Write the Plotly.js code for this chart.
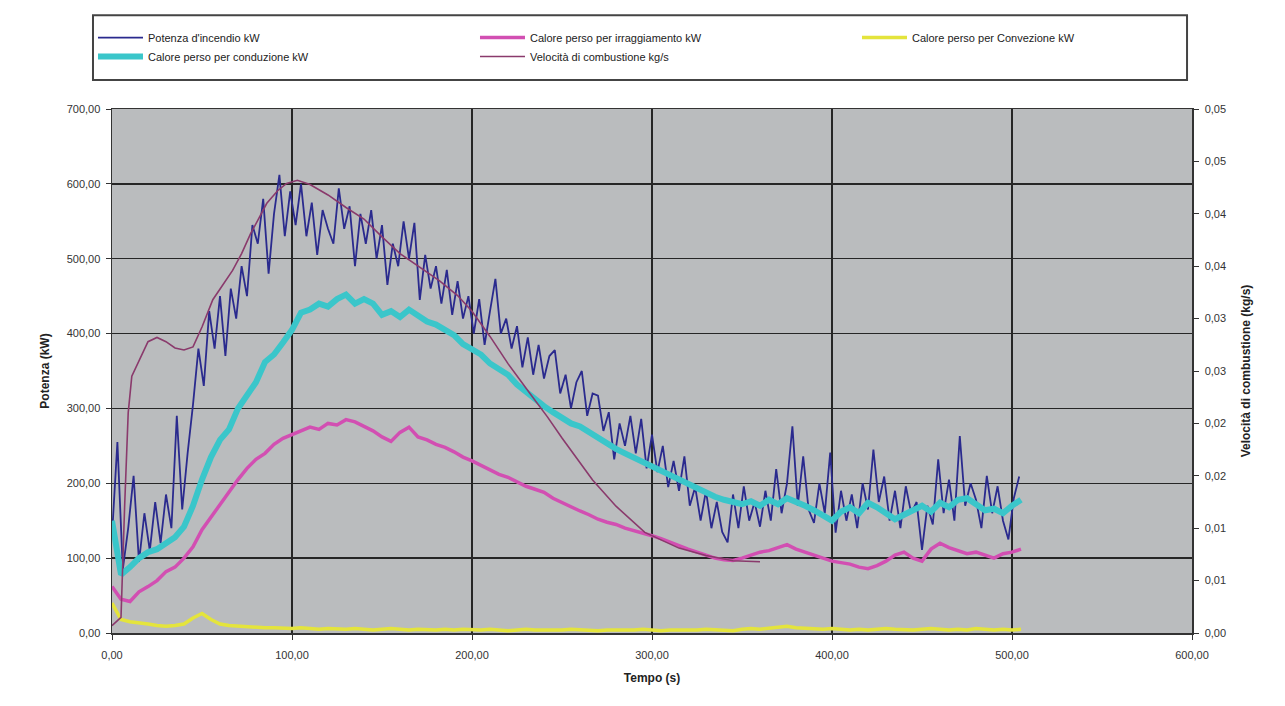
<!DOCTYPE html>
<html>
<head>
<meta charset="utf-8">
<script src="https://cdn.plot.ly/plotly-3.0.1.min.js"></script>
<style>html,body{margin:0;padding:0;background:#fff;}#chart{width:1285px;height:706px;}</style>
</head>
<body>
<div id="chart"></div>
<script>
// ---- DATA ----
const seriesNames = [
  "Potenza d'incendio kW",
  "Calore perso per irraggiamento kW",
  "Calore perso per Convezione kW",
  "Calore perso per conduzione kW",
  "Velocità di combustione kg/s"
];

// Potenza d'incendio (kW), sampled every 3 s from t = 0
const powerStep = 3;
const powerKW = [
  130,255,85,140,210,95,160,110,175,120,
  185,140,290,165,240,305,380,330,430,380,
  450,370,460,420,490,450,545,520,580,480,
  560,612,530,590,545,600,530,575,505,565,
  540,520,594,540,570,490,560,520,565,500,
  545,465,520,490,550,500,548,445,505,460,
  490,440,485,425,470,420,450,400,446,385,
  430,473,400,420,380,410,355,395,345,385,
  340,370,378,320,345,300,335,350,290,320,
  317,270,295,232,280,250,290,240,286,220,
  265,215,250,195,230,190,236,170,195,150,
  190,140,175,135,121,185,140,196,150,175,
  142,190,150,219,160,200,276,170,236,165,
  147,200,160,241,134,190,150,185,140,200,
  165,245,175,209,150,190,140,196,160,175,
  111,170,145,232,160,205,150,263,170,200,
  178,140,210,160,196,150,125,180,209
];

// Calore perso per irraggiamento (kW), every 5 s from t = 0
const lossStep = 5;
const radiationKW = [
  62,45,42,55,62,70,82,88,100,115,
  138,155,172,188,205,220,232,240,252,260,
  265,270,275,272,280,278,285,282,276,270,
  262,256,268,275,262,258,252,248,242,235,
  230,224,218,212,208,202,196,192,188,180,
  174,168,163,158,152,148,145,140,137,134,
  130,126,121,116,112,108,104,100,98,97,
  100,104,108,110,114,118,112,108,104,100,
  96,94,92,88,86,90,96,104,108,100,
  96,112,120,114,110,106,108,104,100,106,
  108,112
];

// Calore perso per Convezione (kW), every 5 s from t = 0
const convectionKW = [
  40,18,15,14,12,10,9,10,12,20,
  26,18,12,10,9,8,8,7,7,6,
  6,7,6,5,6,5,5,6,5,4,
  5,6,5,4,5,4,4,5,4,5,
  4,4,5,4,3,4,5,4,4,3,
  4,5,4,4,3,4,4,3,4,5,
  4,3,4,4,3,4,5,4,4,3,
  5,6,5,6,7,9,7,6,5,5,
  6,5,4,5,4,5,6,5,4,4,
  5,6,5,4,5,4,6,5,4,5,
  4,5
];

// Calore perso per conduzione (kW), every 5 s from t = 0
const conductionKW = [
  150,78,88,100,108,112,120,128,142,170,
  205,235,258,272,300,318,335,362,372,388,
  405,428,432,440,436,446,452,440,446,440,
  425,430,422,432,425,416,412,404,398,386,
  380,372,360,352,345,332,322,312,303,295,
  288,280,276,268,260,252,246,240,234,228,
  222,216,210,204,198,192,186,182,178,176,
  172,176,170,178,172,180,176,170,164,158,
  150,162,168,160,174,168,160,152,158,165,
  170,162,174,168,178,180,172,164,166,160,
  170,178
];

// Velocità di combustione (kg/s), right axis
const burnTime = [0,5,7,9,11,15,20,25,30,35,40,45,50,56,62,67,72,77,82,86,92,97,103,110,120,130,140,150,160,170,182,192,200,210,220,232,242,250,260,267,280,296,315,330,345,360];
const burnRate = [0.0007,0.0015,0.012,0.021,0.0245,0.026,0.0278,0.0282,0.0278,0.0272,0.027,0.0273,0.0292,0.0318,0.0333,0.0346,0.0362,0.0381,0.0397,0.041,0.0422,0.0429,0.0432,0.0428,0.0418,0.0406,0.0395,0.0378,0.0362,0.035,0.0336,0.0322,0.0307,0.0283,0.0257,0.0229,0.0206,0.0186,0.0163,0.0146,0.0121,0.0096,0.0081,0.0074,0.0069,0.0068];

// Axis ticks
const xTicks = [0,100,200,300,400,500,600];
const yTicks = [0,100,200,300,400,500,600,700];
const y2TickVals = [0,0.005,0.01,0.015,0.02,0.025,0.03,0.035,0.04,0.045,0.05];
const y2TickText = ["0,00","0,01","0,01","0,02","0,02","0,03","0,03","0,04","0,04","0,05","0,05"];

// ---- BUILD ----
const powerTime = powerKW.map((_, i) => i * powerStep);
const lossTime = radiationKW.map((_, i) => i * lossStep);

const traces = [
  {x: powerTime, y: powerKW, name: seriesNames[0], type: 'scatter', mode: 'lines',
   line: {color: '#2a2a8e', width: 1.8}},
  {x: lossTime, y: radiationKW, name: seriesNames[1], type: 'scatter', mode: 'lines',
   line: {color: '#d24fb2', width: 3.5}},
  {x: lossTime, y: convectionKW, name: seriesNames[2], type: 'scatter', mode: 'lines',
   line: {color: '#e4e43c', width: 3.5}},
  {x: lossTime, y: conductionKW, name: seriesNames[3], type: 'scatter', mode: 'lines',
   line: {color: '#3ac6ca', width: 6}},
  {x: burnTime, y: burnRate, name: seriesNames[4], type: 'scatter', mode: 'lines', yaxis: 'y2',
   line: {color: '#8a3a6c', width: 1.6}}
];

const fam = 'Liberation Sans, Arial, sans-serif';
const axisFont = {family: fam, size: 11, color: '#333'};
const titleFont = {family: fam, size: 12, color: '#222'};
const gridCol = '#262626';

const layout = {
  width: 1285, height: 706,
  paper_bgcolor: '#ffffff', plot_bgcolor: '#babcbe',
  margin: {l: 112, r: 93, t: 109, b: 73},
  separators: ',.',
  font: axisFont,
  showlegend: true,
  xaxis: {
    range: [0, 600], tickvals: xTicks, tickformat: '.2f',
    showgrid: true, gridcolor: gridCol, gridwidth: 1.5,
    showline: true, linecolor: '#333', linewidth: 1.5, mirror: true,
    ticks: 'outside', ticklen: 5, tickcolor: '#333', ticklabelstandoff: 6,
    zeroline: false, tickfont: axisFont,
    title: {text: '<b>Tempo (s)</b>', font: titleFont, standoff: 14}
  },
  yaxis: {
    range: [0, 700], tickvals: yTicks, tickformat: '.2f',
    showgrid: true, gridcolor: gridCol, gridwidth: 1.5,
    showline: true, linecolor: '#333', linewidth: 1.5,
    ticks: 'outside', ticklen: 5, tickcolor: '#333', ticklabelstandoff: 3,
    zeroline: false, tickfont: axisFont,
    title: {text: '<b>Potenza (kW)</b>', font: titleFont, standoff: 14}
  },
  yaxis2: {
    overlaying: 'y', side: 'right', range: [0, 0.05],
    tickvals: y2TickVals, ticktext: y2TickText,
    showgrid: false, zeroline: false,
    showline: true, linecolor: '#333', linewidth: 1.5,
    ticks: 'outside', ticklen: 5, tickcolor: '#333', ticklabelstandoff: 4,
    tickfont: axisFont,
    title: {text: '<b>Velocità di combustione (kg/s)</b>', font: titleFont, standoff: 16}
  },
  legend: {
    orientation: 'h', x: -0.0176, xanchor: 'left', y: 1.164, yanchor: 'top',
    bgcolor: 'rgba(0,0,0,0)', borderwidth: 0, itemwidth: 45,
    entrywidth: 322, entrywidthmode: 'pixels', traceorder: 'normal',
    font: {family: fam, size: 11, color: '#222'}
  },
  shapes: [
    {type: 'rect', xref: 'paper', yref: 'paper', x0: -0.0176, x1: 0.9954, y0: 1.0553, y1: 1.179,
     line: {color: '#444', width: 2}, fillcolor: 'rgba(0,0,0,0)', layer: 'below'}
  ]
};

Plotly.newPlot('chart', traces, layout, {displayModeBar: false, staticPlot: true});
</script>
</body>
</html>
